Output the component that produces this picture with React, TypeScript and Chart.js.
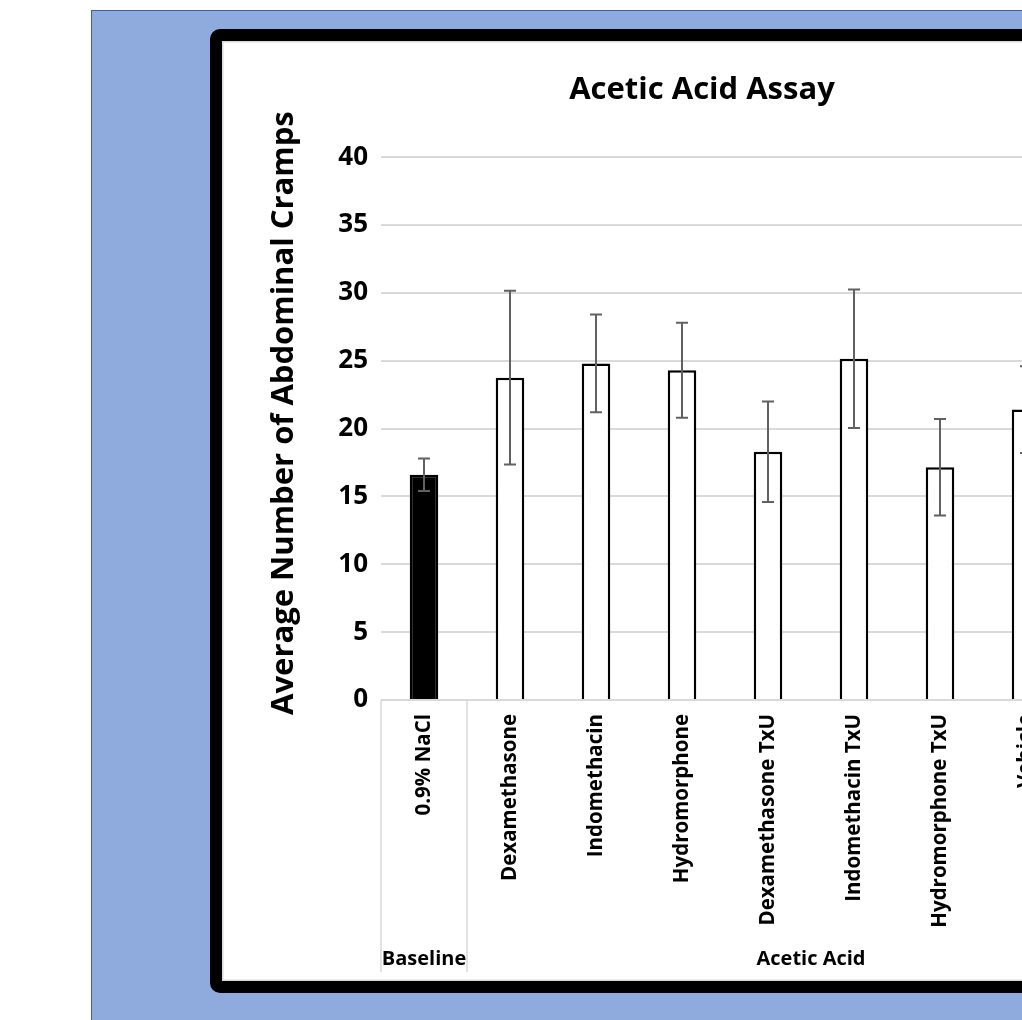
import React, { useEffect, useRef } from 'react';
import { Chart, registerables } from 'chart.js';

Chart.register(...registerables);

// ---- data ----
const categories = [
  '0.9% NaCl',
  'Dexamethasone',
  'Indomethacin',
  'Hydromorphone',
  'Dexamethasone TxU',
  'Indomethacin TxU',
  'Hydromorphone TxU',
  'Vehicle',
  'Vehicle TxU',
];
const means = [16.6, 23.75, 24.8, 24.3, 18.3, 25.15, 17.15, 21.4, null];
const errors = [1.2, 6.4, 3.6, 3.5, 3.7, 5.1, 3.55, 3.2, null];
const groupNames = ['Baseline', 'Acetic Acid'];
const groupSizes = [1, 8];
const yMin = 0;
const yMax = 40;
const yStep = 5;
const chartTitle = 'Acetic Acid Assay';
const yAxisTitle = 'Average Number of Abdominal Cramps';

const FONT = "'Open Sans', 'DejaVu Sans', sans-serif";

const errorBarPlugin = {
  id: 'errorBars',
  afterDatasetsDraw(chart: any) {
    const ctx = chart.ctx;
    const meta = chart.getDatasetMeta(0);
    const y = chart.scales.y;
    ctx.save();
    ctx.strokeStyle = '#616161';
    ctx.lineWidth = 2;
    meta.data.forEach((bar: any, i: number) => {
      const m = means[i];
      const e = errors[i];
      if (m == null || e == null) return;
      const x = bar.x;
      const yt = y.getPixelForValue(m + e);
      const yb = y.getPixelForValue(m - e);
      const cap = 6;
      ctx.beginPath();
      ctx.moveTo(x, yt);
      ctx.lineTo(x, yb);
      ctx.moveTo(x - cap, yt);
      ctx.lineTo(x + cap, yt);
      ctx.moveTo(x - cap, yb);
      ctx.lineTo(x + cap, yb);
      ctx.stroke();
    });
    ctx.restore();
  },
};

const groupAxisPlugin = {
  id: 'groupAxis',
  afterDraw(chart: any) {
    const ctx = chart.ctx;
    const xs = chart.scales.x;
    const area = chart.chartArea;
    const lineBottom = xs.bottom - 9;
    const textY = xs.bottom - 22;
    ctx.save();
    ctx.strokeStyle = '#D9D9D9';
    ctx.lineWidth = 1.5;
    ctx.fillStyle = '#000';
    ctx.font = `bold 20px ${FONT}`;
    ctx.textAlign = 'center';
    ctx.textBaseline = 'middle';
    let start = 0;
    groupSizes.forEach((size, gi) => {
      const left = xs.getPixelForValue(start - 0.5);
      const right = xs.getPixelForValue(start + size - 0.5);
      ctx.beginPath();
      ctx.moveTo(left, area.bottom);
      ctx.lineTo(left, lineBottom);
      if (gi === groupSizes.length - 1) {
        ctx.moveTo(right, area.bottom);
        ctx.lineTo(right, lineBottom);
      }
      ctx.stroke();
      ctx.fillText(groupNames[gi], (left + right) / 2, textY);
      start += size;
    });
    // y axis title
    const ys = chart.scales.y;
    ctx.translate(ys.left + 62, (area.top + area.bottom) / 2 - 15.5);
    ctx.rotate(-Math.PI / 2);
    ctx.font = `bold 31px ${FONT}`;
    ctx.fillText(yAxisTitle, 0, 0);
    ctx.restore();
  },
};

export default function App() {
  const ref = useRef<HTMLCanvasElement>(null);
  useEffect(() => {
    if (!ref.current) return;
    const chart = new Chart(ref.current, {
      type: 'bar',
      data: {
        labels: categories,
        datasets: [
          {
            data: means as any,
            backgroundColor: categories.map((_, i) => (i === 0 ? '#000000' : '#FFFFFF')),
            borderColor: '#000000',
            borderWidth: 2.5,
            barPercentage: 0.332,
            categoryPercentage: 1,
          },
        ],
      },
      options: {
        responsive: false,
        maintainAspectRatio: false,
        animation: false,
        events: [],
        layout: { padding: 0 },
        plugins: {
          legend: { display: false },
          tooltip: { enabled: false },
          title: {
            display: true,
            text: chartTitle,
            color: '#000',
            font: { family: FONT, size: 31, weight: 'bold' },
            padding: { top: 31, bottom: 48 },
          },
        },
        scales: {
          x: {
            grid: { display: false, drawTicks: false },
            border: { display: false },
            ticks: {
              autoSkip: false,
              maxRotation: 90,
              minRotation: 90,
              padding: 14,
              color: '#000',
              font: { family: FONT, size: 20.5, weight: 'bold' },
            },
            afterFit: (s: any) => {
              s.height = 281;
            },
          },
          y: {
            min: yMin,
            max: yMax,
            ticks: {
              stepSize: yStep,
              padding: 13,
              color: '#000',
              font: { family: FONT, size: 26, weight: 'bold' },
            },
            grid: { color: '#D9D9D9', lineWidth: 2, drawTicks: false },
            border: { display: false },
            afterFit: (s: any) => {
              s.width = 159;
            },
          },
          yRight: {
            position: 'right',
            display: true,
            grid: { display: false, drawTicks: false },
            border: { display: false },
            ticks: { display: false },
            afterFit: (s: any) => {
              s.width = 27;
            },
          },
        },
      },
      plugins: [errorBarPlugin, groupAxisPlugin],
    });
    return () => chart.destroy();
  }, []);

  return (
    <div
      style={{
        position: 'fixed',
        left: 0,
        top: 0,
        width: '100vw',
        height: '100vh',
        overflow: 'hidden',
        background: '#FFFFFF',
      }}
    >
      <div
        style={{
          position: 'absolute',
          left: 91,
          top: 10,
          width: 1300,
          height: 1300,
          background: '#8FAADC',
          borderLeft: '1.5px solid #3E5F9C',
          borderTop: '1.5px solid #3E5F9C',
        }}
      />
      <div
        style={{
          position: 'absolute',
          left: 210,
          top: 29,
          width: 984,
          height: 964,
          boxSizing: 'border-box',
          border: '12px solid #000',
          borderRadius: 10,
          background: '#FFFFFF',
          boxShadow: 'inset 0 0 0 1.5px #D9D9D9',
        }}
      >
        <canvas ref={ref} width={960} height={940} style={{ display: 'block', width: 960, height: 940 }} />
      </div>
    </div>
  );
}
